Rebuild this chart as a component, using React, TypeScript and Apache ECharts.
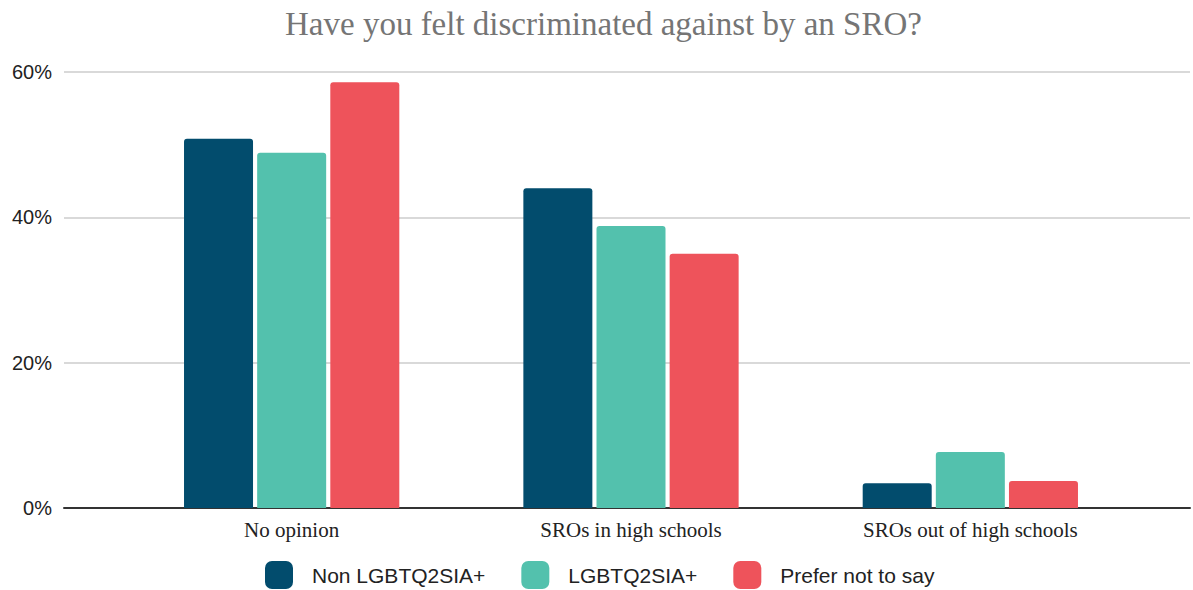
import React, { useEffect, useRef } from "react";
import * as echarts from "echarts";

const title = "Have you felt discriminated against by an SRO?";
const categories = ["No opinion", "SROs in high schools", "SROs out of high schools"];
const seriesNames = ["Non LGBTQ2SIA+", "LGBTQ2SIA+", "Prefer not to say"];
const nonLgbtq = [50.8, 44.0, 3.4];
const lgbtq = [48.9, 38.8, 7.7];
const preferNot = [58.6, 35.0, 3.7];
const colors = ["#024c6d", "#53c1ad", "#ee535b"];
const yTicks = { min: 0, max: 60, interval: 20 };

export default function App() {
  const ref = useRef<HTMLDivElement>(null);
  useEffect(() => {
    if (!ref.current) return;
    const chart = echarts.init(ref.current, null, { renderer: "svg" });
    const values = [nonLgbtq, lgbtq, preferNot];
    chart.setOption({
      animation: false,
      backgroundColor: "#ffffff",
      title: {
        text: title,
        left: 280,
        top: 2,
        textStyle: {
          fontFamily: "Liberation Serif",
          fontSize: 33,
          fontWeight: "normal",
          color: "#757575",
        },
      },
      legend: {
        top: 561,
        left: 265,
        padding: 0,
        itemWidth: 28,
        itemHeight: 28,
        itemGap: 36,
        icon: "roundRect",
        textStyle: {
          fontFamily: "Liberation Sans",
          fontSize: 21,
          color: "#222222",
          padding: [0, 0, 0, 14],
        },
        data: seriesNames,
      },
      grid: [
        { left: 122, right: 53, top: 72, bottom: 82 },
        { left: 64, right: 3, top: 72, bottom: 82 },
      ],
      xAxis: [
        {
          type: "category",
          gridIndex: 0,
          data: categories,
          axisLine: { show: false },
          axisTick: { show: false },
          axisLabel: {
            fontFamily: "Liberation Serif",
            fontSize: 21,
            color: "#222222",
            margin: 11,
          },
        },
        {
          type: "value",
          gridIndex: 1,
          min: 0,
          max: 1,
          axisLine: { show: true, lineStyle: { color: "#333333", width: 2 } },
          axisTick: { show: false },
          axisLabel: { show: false },
          splitLine: { show: false },
        },
      ],
      yAxis: [
        {
          type: "value",
          gridIndex: 0,
          min: yTicks.min,
          max: yTicks.max,
          interval: yTicks.interval,
          show: false,
        },
        {
          type: "value",
          gridIndex: 1,
          min: yTicks.min,
          max: yTicks.max,
          interval: yTicks.interval,
          axisLine: { show: false },
          axisTick: { show: false },
          axisLabel: {
            formatter: "{value}%",
            fontFamily: "Liberation Sans",
            fontSize: 20,
            color: "#222222",
            margin: 12,
          },
          splitLine: { lineStyle: { color: "#cccccc", width: 1.5 } },
        },
      ],
      series: seriesNames.map((name, i) => ({
        name,
        type: "bar",
        xAxisIndex: 0,
        yAxisIndex: 0,
        data: values[i],
        barWidth: 69,
        barGap: "6%",
        itemStyle: { color: colors[i], borderRadius: [3, 3, 0, 0] },
      })),
    });
    return () => chart.dispose();
  }, []);
  return <div ref={ref} style={{ width: 1193, height: 590, position: "absolute", left: 0, top: 0 }} />;
}
